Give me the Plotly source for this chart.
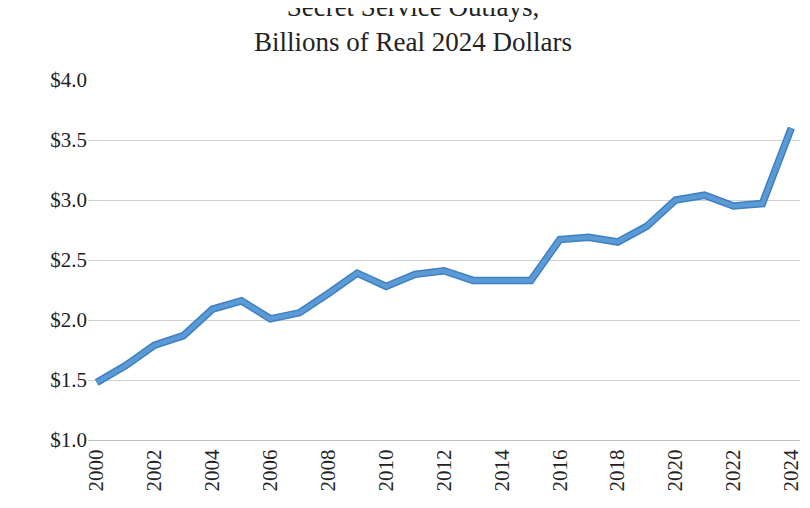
# Import necessary libraries
import plotly.graph_objects as go

years = list(range(2000, 2025))
outlays = [1.48, 1.62, 1.79, 1.87, 2.09, 2.16, 2.01, 2.06, 2.22, 2.39,
           2.28, 2.38, 2.41, 2.33, 2.33, 2.33, 2.67, 2.69, 2.65, 2.78,
           3.00, 3.04, 2.95, 2.97, 3.60]  # billions of real 2024 dollars
tick_years = list(range(2000, 2025, 2))

fig = go.Figure()
fig.add_trace(go.Scatter(x=years, y=outlays, mode='lines',
                         line=dict(color='#3f7fc4', width=7.5)))
fig.add_trace(go.Scatter(x=years, y=outlays, mode='lines',
                         line=dict(color='#5b9bd5', width=4.5)))

fig.update_layout(
    title=dict(text='Secret Service Outlays,<br>Billions of Real 2024 Dollars',
               x=0.5, y=0.985, yref='container', xanchor='center', yanchor='top',
               font=dict(family='Liberation Serif, serif', size=27, color='#222')),
    width=810, height=508,
    margin=dict(l=80, r=18, t=72, b=76),
    plot_bgcolor='white', paper_bgcolor='white',
    showlegend=False,
    font=dict(family='Liberation Serif, serif', size=21, color='#222')
)
fig.update_xaxes(range=[1999.7, 2024.3], tickvals=tick_years, tickangle=-90,
                 showgrid=False, showline=True, linecolor='#bfbfbf',
                 ticks='')
fig.update_yaxes(range=[1.0, 4.0], dtick=0.5, tickformat='$.1f',
                 gridcolor='#d0d0d0', zeroline=False, ticks='')

fig.write_html('out.html')
